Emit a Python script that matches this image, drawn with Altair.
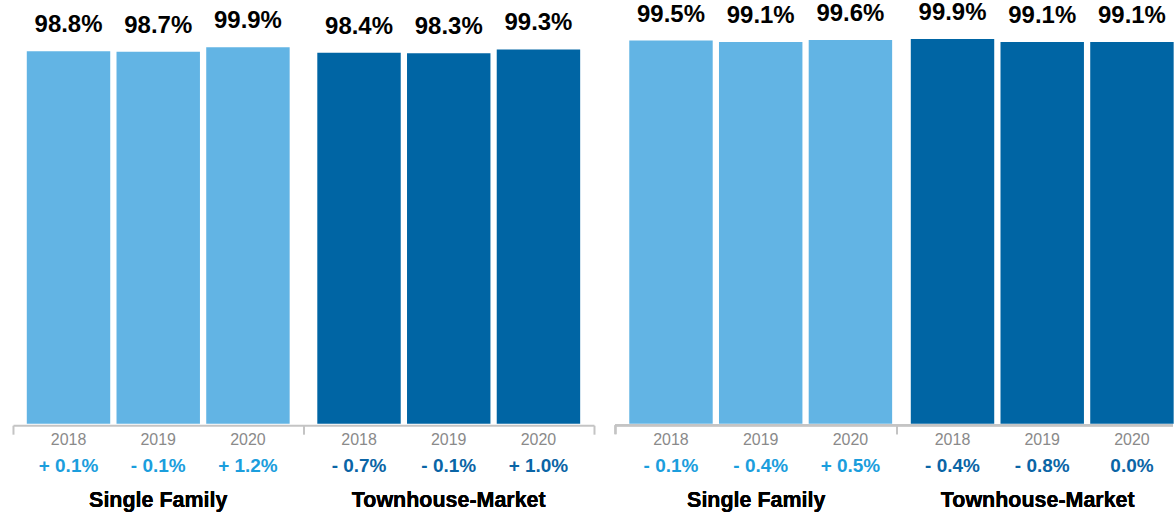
import altair as alt
import pandas as pd

groups = ["Single Family", "Townhouse-Market"]
years = ["2018", "2019", "2020"]
left_values = [98.8, 98.7, 99.9, 98.4, 98.3, 99.3]
left_changes = ["+ 0.1%", "- 0.1%", "+ 1.2%", "- 0.7%", "- 0.1%", "+ 1.0%"]
right_values = [99.5, 99.1, 99.6, 99.9, 99.1, 99.1]
right_changes = ["- 0.1%", "- 0.4%", "+ 0.5%", "- 0.4%", "- 0.8%", "0.0%"]

BAR_COLORS = ["#62B4E4", "#0065A4"]
CHANGE_COLORS = ["#1B9EDD", "#0A65A6"]
BRACKET = "#C4C4C4"
FONT = "Liberation Sans"
PLOT_H = 424
LINE_Y = PLOT_H + 1.5
TICK = 9


def frame(values, changes):
    rows = []
    i = 0
    for g in groups:
        for yr in years:
            rows.append({"group": g, "year": yr, "value": values[i], "change": changes[i]})
            i += 1
    return pd.DataFrame(rows)


def panel(values, changes, width, ymax, full_width=None):
    df = frame(values, changes)
    sc = dict(paddingInner=0, paddingOuter=0)
    if full_width is not None:
        # the right panel is cropped at the picture's right edge
        sc["range"] = [0, full_width]
        axis = None
    else:
        axis = alt.Axis(domainColor=BRACKET, domainWidth=2, tickColor=BRACKET, tickWidth=2,
                        tickSize=TICK, tickBand="extent", labels=False, grid=False,
                        offset=1.5, title=None)
    x = alt.X("group:N", sort=groups, title=None, scale=alt.Scale(**sc), axis=axis)
    xo = alt.XOffset("year:N", sort=years,
                     scale=alt.Scale(paddingInner=0.07, paddingOuter=0.154))
    y = alt.Y("value:Q", scale=alt.Scale(domain=[0, ymax], nice=False, zero=True), axis=None)
    base = alt.Chart(df).encode(x=x, xOffset=xo)
    bars = base.mark_bar().encode(
        y=y,
        color=alt.Color("group:N", scale=alt.Scale(domain=groups, range=BAR_COLORS), legend=None),
    )
    vals = base.transform_calculate(
        label="format(datum.value, '.1f') + '%'"
    ).mark_text(
        font=FONT, fontSize=24, fontWeight="bold", color="#000000",
        baseline="alphabetic", align="center", dy=-19,
    ).encode(y=y, text="label:N")
    yrs = base.mark_text(
        font=FONT, fontSize=16, color="#8A8A8A", baseline="alphabetic", align="center",
    ).encode(y=alt.value(445.3), text="year:N")
    chg = base.mark_text(
        font=FONT, fontSize=19, fontWeight="bold", baseline="alphabetic", align="center",
    ).encode(
        y=alt.value(472.3), text="change:N",
        color=alt.condition(alt.datum.group == groups[0],
                            alt.value(CHANGE_COLORS[0]), alt.value(CHANGE_COLORS[1])),
    )
    names = alt.Chart(df).mark_text(
        font=FONT, fontSize=21.5, fontWeight="bold", color="#000000",
        baseline="alphabetic", align="center",
    ).encode(x=x, y=alt.value(507), text="group:N")
    layers = [bars, vals, yrs, chg, names]
    if full_width is not None:
        line = alt.Chart(df).mark_rule(
            color=BRACKET, strokeWidth=2
        ).encode(x=alt.value(0), x2=alt.value(width), y=alt.value(LINE_Y))
        ticks = alt.Chart(df).mark_rule(color=BRACKET, strokeWidth=2).encode(
            x=alt.X("group:N", sort=groups, bandPosition=0, scale=alt.Scale(**sc), axis=None),
            y=alt.value(LINE_Y), y2=alt.value(LINE_Y + TICK),
        )
        layers = [bars, line, ticks, vals, yrs, chg, names]
    return alt.layer(*layers).properties(width=width, height=PLOT_H)


left = panel(left_values, left_changes, 582, 112.3)
right = panel(right_values, right_changes, 558.5, 109.9, full_width=564)

chart = alt.hconcat(left, right, spacing=21.5, bounds="flush").properties(
    padding={"left": 12, "top": 0, "right": 0, "bottom": 0},
).configure_view(stroke=None)

chart.save("out.html", embed_options={"renderer": "svg", "actions": False})
